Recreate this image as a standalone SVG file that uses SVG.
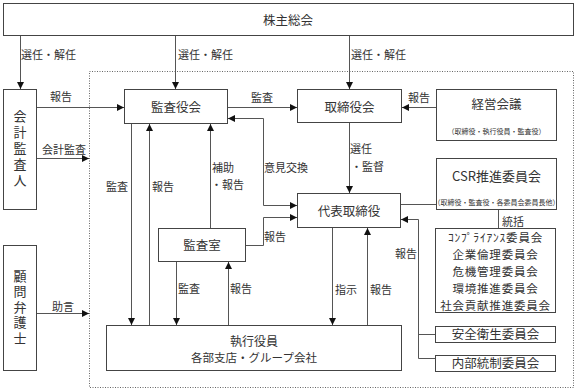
<svg xmlns="http://www.w3.org/2000/svg" width="577" height="391" viewBox="0 0 577 391">
<style>
.box{fill:#fff;stroke:#444;stroke-width:1}
.t{font-family:"Noto Sans CJK JP","Noto Sans",sans-serif;fill:#333;text-anchor:middle}
.lb{font-family:"Noto Sans CJK JP","Noto Sans",sans-serif;fill:#333;font-size:11px}
.v{font-family:"Noto Sans CJK JP","Noto Sans",sans-serif;fill:#333;font-size:13px;writing-mode:vertical-rl;text-anchor:middle}
.cm{font-size:11.5px;letter-spacing:0.8px}
.ln{fill:none;stroke:#555;stroke-width:1}
.ar{marker-end:url(#ah)}
</style>
<defs>
<marker id="ah" markerUnits="userSpaceOnUse" markerWidth="7" markerHeight="7" refX="7" refY="3.5" orient="auto"><path d="M0,0 L7,3.5 L0,7 z" fill="#111"/></marker>
</defs>
<rect x="89.5" y="71.5" width="484" height="316" fill="none" stroke="#666" stroke-width="1" stroke-dasharray="1,1.5"/>
<g id="connectors">
<path class="ln ar" d="M20.5,36 V89"/>
<path class="ln ar" d="M175.5,36 V89"/>
<path class="ln ar" d="M349.5,36 V89"/>
<path class="ln ar" d="M37,107.5 H124"/>
<path class="ln ar" d="M37,158.5 H89"/>
<path class="ln ar" d="M228,107.5 H297"/>
<path class="ln ar" d="M436,107.5 H402"/>
<path class="ln ar" d="M349.5,123 V193"/>
<path class="ln ar" d="M263.5,118.5 V205.5 H297"/>
<path class="ln ar" d="M263.5,118.5 H228"/>
<path class="ln ar" d="M246,245.5 H263.5 V217.5 H297"/>
<path class="ln ar" d="M210.5,228 V124"/>
<path class="ln ar" d="M131.5,124 V325"/>
<path class="ln ar" d="M149.5,325 V124"/>
<path class="ln ar" d="M176.5,262 V325"/>
<path class="ln ar" d="M228.5,325 V262"/>
<path class="ln ar" d="M332.5,228 V325"/>
<path class="ln ar" d="M367.5,325 V228"/>
<path class="ln" d="M401,204.5 H436"/>
<path class="ln" d="M498.5,210 V228"/>
<path class="ln ar" d="M435,358.5 H418.5 V219.5 H401"/>
<path class="ln" d="M418.5,334.5 H435"/>
<path class="ln ar" d="M37,313.5 H89"/>
<text class="lb" x="21" y="59">選任・解任</text>
<text class="lb" x="178" y="59">選任・解任</text>
<text class="lb" x="351" y="59">選任・解任</text>
<text class="lb" x="50" y="101">報告</text>
<text class="lb" x="42" y="154">会計監査</text>
<text class="lb" x="251" y="102">監査</text>
<text class="lb" x="408" y="102">報告</text>
<text class="lb" x="350" y="153">選任</text>
<text class="lb" x="351" y="171">・監督</text>
<text class="lb" x="264" y="172">意見交換</text>
<text class="lb" x="212" y="172">補助</text>
<text class="lb" x="211" y="189">・報告</text>
<text class="lb" x="106" y="191">監査</text>
<text class="lb" x="152" y="191">報告</text>
<text class="lb" x="264" y="241">報告</text>
<text class="lb" x="178" y="293">監査</text>
<text class="lb" x="230" y="293">報告</text>
<text class="lb" x="335" y="294">指示</text>
<text class="lb" x="370" y="294">報告</text>
<text class="lb" x="395" y="258">報告</text>
<text class="lb" x="502" y="226">統括</text>
<text class="lb" x="52" y="311">助言</text>
</g>
<g id="shareholders"><rect class="box" x="3.5" y="3.5" width="570" height="32"/><text class="t" x="288" y="24.5" font-size="12.5">株主総会</text></g>
<g id="auditor"><rect class="box" x="3.5" y="89.5" width="33" height="120"/>
<text class="v" x="20" y="150" letter-spacing="3">会計監査人</text></g>
<g id="lawyer"><rect class="box" x="3.5" y="245.5" width="33" height="125"/>
<text class="v" x="20" y="308" letter-spacing="2.5">顧問弁護士</text></g>
<g id="kansayakukai"><rect class="box" x="124.5" y="89.5" width="103" height="34"/><text class="t" x="176" y="111.5" font-size="12.5">監査役会</text></g>
<g id="torishimariyakukai"><rect class="box" x="297.5" y="89.5" width="104" height="33"/><text class="t" x="349.5" y="111.5" font-size="12.5">取締役会</text></g>
<g id="keiei"><rect class="box" x="436.5" y="89.5" width="120" height="51"/><text class="t" x="496.5" y="109" font-size="12.5">経営会議</text><text class="t" x="496.5" y="133.5" font-size="7">（取締役・執行役員・監査役）</text></g>
<g id="csr"><rect class="box" x="436.5" y="158.5" width="120" height="51"/><text class="t" x="496.5" y="181" font-size="13">CSR推進委員会</text><text class="t" x="496.5" y="204.5" font-size="7">（取締役・監査役・各委員会委員長他）</text></g>
<g id="daihyo"><rect class="box" x="297.5" y="193.5" width="103" height="34"/><text class="t" x="349" y="215.5" font-size="12.5">代表取締役</text></g>
<g id="kansashitsu"><rect class="box" x="158.5" y="228.5" width="87" height="33"/><text class="t" x="202" y="250" font-size="12.5">監査室</text></g>
<g id="committees"><rect class="box" x="435.5" y="228.5" width="120" height="84"/>
<text class="t cm"><tspan x="495.5" y="242.4">ｺﾝﾌﾟﾗｲｱﾝｽ委員会</tspan><tspan x="495.5" y="259.4">企業倫理委員会</tspan><tspan x="495.5" y="276.4">危機管理委員会</tspan><tspan x="495.5" y="293.4">環境推進委員会</tspan><tspan x="495.5" y="310.4">社会貢献推進委員会</tspan></text></g>
<g id="anzen"><rect class="box" x="435.5" y="326.5" width="120" height="16"/><text class="t" x="495.5" y="339" font-size="12.5">安全衛生委員会</text></g>
<g id="naibu"><rect class="box" x="435.5" y="355.5" width="120" height="16"/><text class="t" x="495.5" y="368" font-size="12.5">内部統制委員会</text></g>
<g id="shikko"><rect class="box" x="106.5" y="325.5" width="295" height="45"/><text class="t" font-size="12"><tspan x="254" y="346">執行役員</tspan><tspan x="254" y="362" font-size="11.5">各部支店・グループ会社</tspan></text></g>
</svg>
